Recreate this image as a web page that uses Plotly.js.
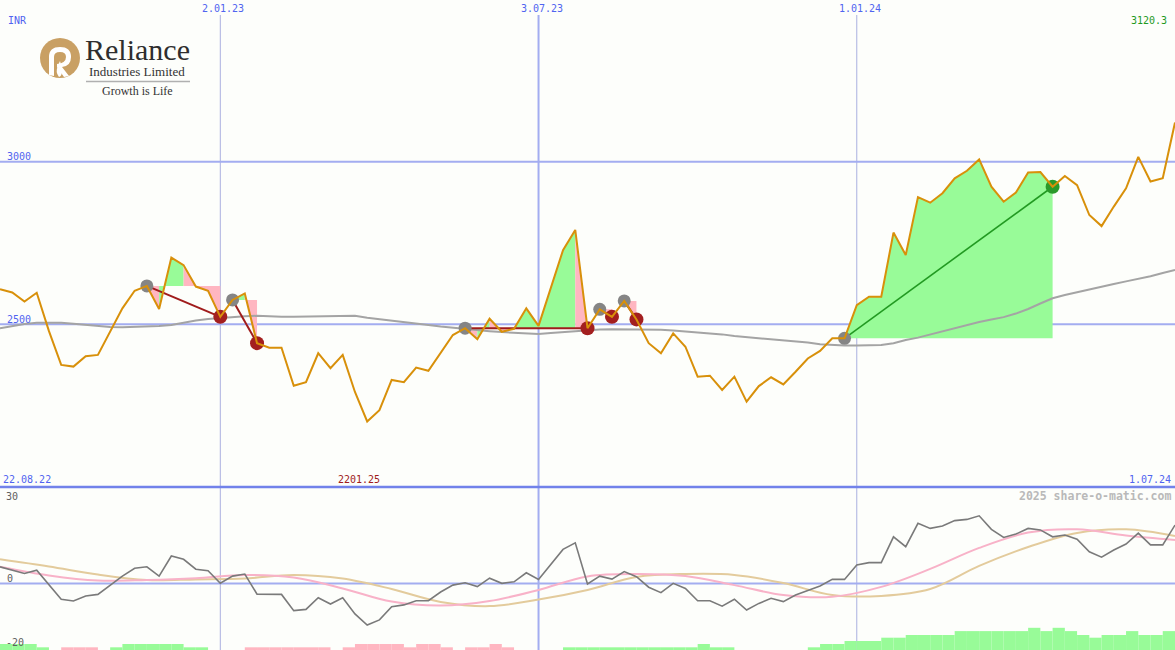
<!DOCTYPE html>
<html><head><meta charset="utf-8">
<script src="https://cdn.plot.ly/plotly-3.0.1.min.js"></script>
<style>html,body{margin:0;padding:0;background:#fdfefb;}#chart{width:1175px;height:650px;}</style>
</head><body><div id="chart"></div>
<script>
// ---------- DATA ----------
const weekDates = [
 '2022-08-29','2022-09-05','2022-09-12','2022-09-19','2022-09-26','2022-10-03','2022-10-10','2022-10-17','2022-10-24','2022-10-31',
 '2022-11-07','2022-11-14','2022-11-21','2022-11-28','2022-12-05','2022-12-12','2022-12-19','2022-12-26','2023-01-02','2023-01-09',
 '2023-01-16','2023-01-23','2023-01-30','2023-02-06','2023-02-13','2023-02-20','2023-02-27','2023-03-06','2023-03-13','2023-03-20',
 '2023-03-27','2023-04-03','2023-04-10','2023-04-17','2023-04-24','2023-05-01','2023-05-08','2023-05-15','2023-05-22','2023-05-29',
 '2023-06-05','2023-06-12','2023-06-19','2023-06-26','2023-07-03','2023-07-10','2023-07-17','2023-07-24','2023-07-31','2023-08-07',
 '2023-08-14','2023-08-21','2023-08-28','2023-09-04','2023-09-11','2023-09-18','2023-09-25','2023-10-02','2023-10-09','2023-10-16',
 '2023-10-23','2023-10-30','2023-11-06','2023-11-13','2023-11-20','2023-11-27','2023-12-04','2023-12-11','2023-12-18','2023-12-25',
 '2024-01-01','2024-01-08','2024-01-15','2024-01-22','2024-01-29','2024-02-05','2024-02-12','2024-02-19','2024-02-26','2024-03-04',
 '2024-03-11','2024-03-18','2024-03-25','2024-04-01','2024-04-08','2024-04-15','2024-04-22','2024-04-29','2024-05-06','2024-05-13',
 '2024-05-20','2024-05-27','2024-06-03','2024-06-10','2024-06-17','2024-06-24','2024-07-01'];

const price = [
 2608,2598,2570,2597,2479,2375,2370,2402,2406,2478,
 2549,2603,2618,2547,2705,2682,2616,2603,2523,2575,
 2595,2442,2428,2428,2311,2322,2411,2365,2406,2292,
 2201.25,2236,2329,2322,2367,2357,2413,2467,2488,2454,
 2517,2477,2486,2549,2495,2614,2728,2790,2488,2546,
 2523,2572,2515,2442,2411,2472,2431,2339,2342,2298,
 2339,2262,2310,2337,2315,2354,2395,2418,2457,2457,
 2559,2585,2585,2782,2713,2891,2874,2903,2949,2972,
 3007,2923,2877,2905,2967,2968,2923,2956,2928,2836,
 2802,2862,2918,3015,2939,2949,3120.3];

const movingAvg = [
 2488,2495,2501,2505,2506,2505,2502,2498,2495,2492,
 2491,2492,2493,2495,2498,2506,2512,2516,2519,2523,
 2525,2526,2524,2523,2523,2524,2525,2525,2525,2526,
 2520,2516,2512,2507,2502,2498,2493,2489,2486,2482,
 2479,2476,2474,2472,2470,2473,2476,2479,2482,2484,
 2485,2485,2485,2484,2483,2481,2478,2476,2473,2469,
 2464,2461,2458,2455,2452,2448,2444,2439,2436,2435,
 2435,2435,2436,2442,2452,2459,2469,2478,2489,2498,
 2507,2515,2522,2533,2547,2564,2580,2590,2599,2608,
 2616,2624,2632,2639,2648,2658,2667];

const momentum = [
 5.6,4.5,3.4,4.5,-0.5,-5.2,-5.8,-4.1,-3.6,-0.5,
 2.5,5.1,5.6,2.5,9.2,8.1,4.8,4.3,0.1,2.5,
 3.2,-3.5,-3.6,-3.6,-9.0,-8.6,-4.7,-6.8,-4.7,-10.1,
 -13.8,-12.1,-7.7,-7.1,-5.7,-5.7,-2.8,-0.5,0.3,-1.0,
 1.8,0.1,0.6,3.6,1.4,6.5,11.4,13.6,-0.1,2.5,
 1.5,4.0,2.3,-1.2,-3.0,0.1,-1.6,-5.7,-5.7,-7.5,
 -5.2,-8.8,-6.6,-4.9,-6.0,-3.8,-2.4,-0.8,1.4,1.4,
 6.2,7.0,7.0,15.6,12.3,20.1,18.4,19.2,21.0,21.4,
 22.6,18.1,15.4,16.5,18.4,17.9,15.6,16.2,14.8,10.6,
 8.8,11.2,13.2,16.8,12.9,12.9,19.5];

const smoothIdx = [0,4,8,12,16,20,24,28,32,36,40,44,48,52,56,60,64,68,72,76,80,84,88,92,96];
const avgFast = [5.6,2.7,1.0,1.2,1.8,2.9,2.0,-1.6,-6.0,-7.3,-5.8,-2.1,2.4,3.2,2.5,-0.5,-3.8,-4.4,-1.1,4.9,11.9,17.0,18.1,16.0,14.5];
const avgSlow = [8.1,5.7,3.0,1.2,1.4,1.7,2.9,1.7,-1.8,-6.1,-7.5,-5.3,-2.1,2.2,3.2,2.9,0.2,-3.8,-4.1,-1.8,5.9,12.2,16.9,18.1,15.9];

const histGain = [
 2.0,2.0,2.0,0.9,0,0,0,0,0,0.9,
 2.0,2.0,2.0,2.0,2.0,0.9,0.9,0,0,0,
 0,0,0,0,0,0,0,0,0,0,
 0,0,0,0,0,0,0,0,0,0,
 0,0,0,0,0,0,0.9,0.9,0.9,0.9,
 0.9,0.9,0.9,0.9,0.9,0.9,0.9,2.0,0.9,0.9,
 0,0,0,0,0,0,0.9,2.0,2.0,3.0,
 3.0,3.0,4.1,4.1,5.0,5.0,5.0,5.0,6.3,6.3,
 6.3,6.3,6.3,6.3,7.4,6.3,7.4,6.3,5.0,4.1,
 5.0,5.0,6.3,5.0,5.0,6.3];
const histLoss = [
 0,0,0,0,0,0.9,0.9,0.9,0,0,
 0,0,0,0,0,0,0,0,0,0,
 0.9,0.9,0.9,0.9,0.9,0.9,0.9,0,0.9,2.0,
 2.0,2.0,2.0,0.9,2.0,2.0,0.9,0,0.9,0.9,
 2.0,0.9,0,0,0,0,0,0,0,0,
 0,0,0,0,0,0,0,0,0,0,
 0,0,0,0,0,0,0,0,0,0,
 0,0,0,0,0,0,0,0,0,0,
 0,0,0,0,0,0,0,0,0,0,
 0,0,0,0,0,0];

const entryIdx = [12,19,38,49,51,69];
const exitIdx  = [18,21,48,50,52,86];
const exitWin  = [false,false,false,false,false,true];

const fillFrom  = [12,13,15,19,20,38,39,40,42,47,49,51,69];
const fillTo    = [13,15,18,20,21,39,40,42,47,48,50,52,86];
const fillTrade = [0,0,0,1,1,2,2,2,2,2,3,4,5];
const fillKind  = ['loss','gain','loss','gain','loss','loss','gain','loss','gain','loss','loss','loss','gain'];

const gridDates = ['2023-01-02','2023-07-03','2024-01-01'];
const gridLabels = ['2.01.23','3.07.23','1.01.24'];
const priceLevels = [3000, 2500];

// ---------- STYLE ----------
const W = 1175, H = 650;
const C = {
  price:'#d8900a', ma:'#a4a4a4', gain:'#98fb98', loss:'#ffb6c1',
  grid:'#a3adf0', sep:'#7282ea', vgrid:'#aab0e0', label:'#5064f0',
  red:'#a01c1c', green:'#229a22', mom:'#7a7a7a', fast:'#f8b2c8', slow:'#e3cb9c'
};
const PY0 = 1 - 487 / H; // split between the panels
const mono = 'DejaVu Sans Mono';

const traces = [];
// trade fills
for (let i = 0; i < fillFrom.length; i++) {
  const a = fillFrom[i], b = fillTo[i];
  const lvl = price[entryIdx[fillTrade[i]]];
  const xs = weekDates.slice(a, b + 1).concat([weekDates[b], weekDates[a]]);
  const ys = price.slice(a, b + 1).concat([lvl, lvl]);
  traces.push({x: xs, y: ys, xaxis:'x', yaxis:'y', mode:'lines', fill:'toself',
    fillcolor: C[fillKind[i]], line:{width:0, color:'rgba(0,0,0,0)'}, hoverinfo:'skip', showlegend:false});
}
// moving average
traces.push({x: weekDates, y: movingAvg, mode:'lines', line:{color:C.ma, width:2}, showlegend:false, hoverinfo:'skip'});
// trade connection lines
for (let t = 0; t < entryIdx.length; t++) {
  traces.push({x:[weekDates[entryIdx[t]], weekDates[exitIdx[t]]], y:[price[entryIdx[t]], price[exitIdx[t]]],
    mode:'lines', line:{color: exitWin[t] ? C.green : C.red, width: exitWin[t] ? 1.6 : 2}, showlegend:false, hoverinfo:'skip'});
}
// markers
traces.push({x: entryIdx.map(i => weekDates[i]), y: entryIdx.map(i => price[i]), mode:'markers',
  marker:{size:13, color:'#858585'}, showlegend:false, hoverinfo:'skip'});
traces.push({x: exitIdx.map(i => weekDates[i]), y: exitIdx.map(i => price[i]), mode:'markers',
  marker:{size:14, color: exitWin.map(w => w ? '#2a9a2a' : '#a31f1f')}, showlegend:false, hoverinfo:'skip'});
// price line
traces.push({x: weekDates, y: price, mode:'lines', line:{color:C.price, width:2}, showlegend:false, hoverinfo:'skip'});

// lower panel
const LOW = [-22.13, 32.2];
traces.push({type:'bar', x: weekDates.slice(0, 96), y: histGain, base: LOW[0], xaxis:'x', yaxis:'y2',
  offset:0, width:7*86400000, marker:{color:C.gain, line:{width:0}}, showlegend:false, hoverinfo:'skip'});
traces.push({type:'bar', x: weekDates.slice(0, 96), y: histLoss, base: LOW[0], xaxis:'x', yaxis:'y2',
  offset:0, width:7*86400000, marker:{color:C.loss, line:{width:0}}, showlegend:false, hoverinfo:'skip'});
traces.push({x: smoothIdx.map(i => weekDates[i]), y: avgSlow, xaxis:'x', yaxis:'y2', mode:'lines',
  line:{color:C.slow, width:2, shape:'spline'}, showlegend:false, hoverinfo:'skip'});
traces.push({x: smoothIdx.map(i => weekDates[i]), y: avgFast, xaxis:'x', yaxis:'y2', mode:'lines',
  line:{color:C.fast, width:2, shape:'spline'}, showlegend:false, hoverinfo:'skip'});
traces.push({x: weekDates, y: momentum, xaxis:'x', yaxis:'y2', mode:'lines',
  line:{color:C.mom, width:1.6}, showlegend:false, hoverinfo:'skip'});

// ---------- SHAPES ----------
const shapes = [];
gridDates.forEach((d, i) => shapes.push({type:'line', layer:'below', xref:'x', yref:'paper', x0:d, x1:d,
  y0:0, y1:1 - 15 / H, line:{color: i === 1 ? C.grid : C.vgrid, width: i === 1 ? 2 : 1}}));
priceLevels.forEach(v => shapes.push({type:'line', layer:'below', xref:'paper', yref:'y', x0:0, x1:1, y0:v, y1:v,
  line:{color:C.grid, width:2}}));
shapes.push({type:'line', layer:'below', xref:'paper', yref:'y2', x0:0, x1:1, y0:0, y1:0, line:{color:C.grid, width:2}});
shapes.push({type:'line', layer:'above', xref:'paper', yref:'paper', x0:0, x1:1, y0:PY0, y1:PY0, line:{color:C.sep, width:2.5}});

// logo (pixel path -> paper)
function pxPath(s) {
  return s.replace(/(-?\d+\.?\d*),(-?\d+\.?\d*)/g, (m, a, b) => (a / W).toFixed(5) + ',' + (1 - b / H).toFixed(5));
}
shapes.push({type:'circle', xref:'paper', yref:'paper', x0:40/W, x1:80/W, y0:1-78/H, y1:1-38/H,
  fillcolor:'#c9a064', line:{width:0}, layer:'above'});
shapes.push({type:'path', xref:'paper', yref:'paper', layer:'above', fillcolor:'#ffffff', line:{width:0},
  path: pxPath('M49,75 L49,57 Q49,47 60,47 Q71,47 71,57 Q71,66 62,67 L69,76 L64,77 L57,67 L57,64 Q66,63 66,57 Q66,52 60,52 Q54,52 54,57 L54,76 Z')});
shapes.push({type:'path', xref:'paper', yref:'paper', layer:'above', fillcolor:'#ffffff', line:{width:0},
  path: pxPath('M59,77 Q55,72 58,66 Q59,63 60,61 Q62,67 62,71 Q62,76 59,77 Z')});
shapes.push({type:'line', xref:'paper', yref:'paper', layer:'above', x0:86/W, x1:190/W, y0:1-81.5/H, y1:1-81.5/H,
  line:{color:'#b0b0b0', width:1.5}});

// ---------- ANNOTATIONS ----------
function lbl(text, x, y, anchor, color, size, family, extra) {
  return Object.assign({text, xref:'paper', yref:'paper', x: x / W, y: 1 - y / H, xanchor: anchor, yanchor:'middle',
    showarrow:false, font:{family: family || mono, size: size || 10, color}}, extra || {});
}
const minPrice = Math.min(...price);
const lastPrice = price[price.length - 1];
const ann = [
  lbl('INR', 6, 21, 'left', C.label),
  lbl(lastPrice.toFixed(1), 1169, 21, 'right', '#1f9a1f'),
  lbl(String(priceLevels[0]), 5, 156, 'left', C.label),
  lbl(String(priceLevels[1]), 5, 319, 'left', C.label),
  lbl('22.08.22', 1, 479, 'left', C.label),
  lbl(minPrice.toFixed(2), 359, 479, 'center', C.red),
  lbl('1.07.24', 1173, 479, 'right', C.label),
  lbl('<b>2025 share-o-matic.com</b>', 1173, 496, 'right', '#b9b9b9', 11.5),
  lbl('30', 4, 496, 'left', '#606060'),
  lbl('0', 5, 578, 'left', '#606060'),
  lbl('-20', 4, 642, 'left', '#606060'),
  lbl('Reliance', 137, 50, 'center', '#2e2e2e', 30, 'Liberation Serif'),
  lbl('Industries Limited', 137, 72, 'center', '#333333', 13, 'Liberation Serif'),
  lbl('Growth is Life', 137, 91.5, 'center', '#333333', 12, 'Liberation Serif')
];
gridDates.forEach((d, i) => ann.push({text: gridLabels[i], xref:'x', yref:'paper', x:d, y:1 - 9 / H, xanchor:'center',
  yanchor:'middle', xshift:3, showarrow:false, font:{family:mono, size:10, color:C.label}}));

const layout = {
  width: W, height: H, margin:{l:0, r:0, t:0, b:0, pad:0},
  paper_bgcolor:'#fdfefb', plot_bgcolor:'rgba(0,0,0,0)',
  showlegend:false, barmode:'overlay',
  xaxis:{type:'date', range:['2022-08-29','2024-07-01'], domain:[0,1], visible:false, fixedrange:true},
  yaxis:{domain:[PY0, 1], range:[1999.7, 3497.2], visible:false, fixedrange:true},
  yaxis2:{domain:[0, PY0], range:LOW, visible:false, fixedrange:true},
  shapes, annotations: ann
};
Plotly.newPlot('chart', traces, layout, {displayModeBar:false, staticPlot:true});
</script></body></html>
